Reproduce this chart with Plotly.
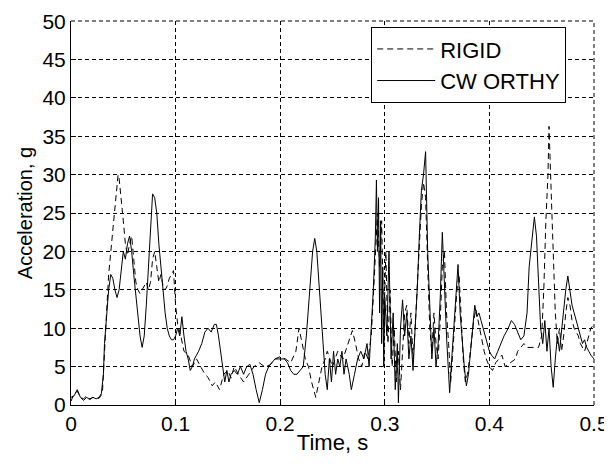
import plotly.graph_objects as go

# ---- data ----
t_cworthy = [0.000, 0.003, 0.006, 0.009, 0.012, 0.015, 0.018, 0.021, 0.024, 0.027, 0.029,
             0.031, 0.032, 0.034, 0.036, 0.038, 0.040, 0.042, 0.044, 0.046, 0.048, 0.050,
             0.052, 0.054, 0.056, 0.058, 0.060, 0.062, 0.064, 0.066, 0.068, 0.070, 0.072,
             0.074, 0.076, 0.078, 0.080, 0.082, 0.084, 0.086, 0.088, 0.090, 0.092, 0.094,
             0.096, 0.098, 0.100, 0.102, 0.104, 0.106, 0.108, 0.110, 0.112, 0.114, 0.116,
             0.118, 0.120, 0.122, 0.125, 0.128, 0.131, 0.134, 0.137, 0.139, 0.141, 0.143,
             0.145, 0.147, 0.149, 0.151, 0.153, 0.156, 0.159, 0.162, 0.165, 0.168, 0.171,
             0.174, 0.177, 0.180, 0.183, 0.186, 0.189, 0.192, 0.195, 0.198, 0.201, 0.204,
             0.207, 0.210, 0.213, 0.216, 0.219, 0.222, 0.225, 0.228, 0.231, 0.233, 0.235,
             0.238, 0.241, 0.243, 0.245, 0.247, 0.249, 0.251, 0.253, 0.255, 0.257, 0.259,
             0.261, 0.263, 0.266, 0.268, 0.271, 0.274, 0.277, 0.280, 0.283, 0.285, 0.287,
             0.289, 0.291, 0.292, 0.293, 0.294, 0.295, 0.296, 0.297, 0.298, 0.299, 0.300,
             0.302, 0.304, 0.306, 0.308, 0.310, 0.312, 0.313, 0.315, 0.317, 0.319, 0.321,
             0.323, 0.325, 0.327, 0.329, 0.331, 0.333, 0.335, 0.337, 0.339, 0.341, 0.343,
             0.345, 0.347, 0.349, 0.351, 0.353, 0.355, 0.357, 0.359, 0.361, 0.362, 0.364,
             0.366, 0.368, 0.370, 0.372, 0.374, 0.376, 0.378, 0.380, 0.382, 0.384, 0.386,
             0.388, 0.390, 0.392, 0.394, 0.396, 0.398, 0.400, 0.402, 0.405, 0.408, 0.411,
             0.414, 0.418, 0.421, 0.424, 0.427, 0.430, 0.433, 0.436, 0.438, 0.441, 0.443,
             0.445, 0.447, 0.449, 0.451, 0.453, 0.455, 0.457, 0.459, 0.461, 0.463, 0.465,
             0.467, 0.469, 0.471, 0.473, 0.475, 0.477, 0.479, 0.481, 0.483, 0.485, 0.487,
             0.489, 0.491, 0.493, 0.495, 0.497, 0.500]
g_cworthy = [1.0, 1.2, 2.0, 1.0, 0.6, 1.0, 0.7, 1.0, 0.8, 1.0, 1.5,
             4, 8, 12, 15, 17, 16.5, 15, 14, 15, 18, 20,
             19, 21, 22, 20, 17, 14, 12, 9, 7.5, 9, 13,
             18, 24, 27.5, 27, 25, 21, 18, 14, 12, 10, 9,
             8.5, 8.5, 9, 10, 9, 11.5, 9, 7, 6, 4.5, 5,
             6, 6.5, 7, 8, 9.5, 10, 9.5, 10.5, 10.5, 9, 7,
             5, 3, 4.5, 3, 4, 4.5, 4, 5, 4, 5, 5.3,
             4, 2, 0.3, 2, 4, 5, 5.5, 6, 6, 6, 6,
             5.5, 4.5, 4, 4, 4.5, 5, 9, 15, 20, 21.7, 20,
             14, 7, 4, 2, 6, 3, 7, 4, 6, 5, 7,
             4, 6, 4, 2, 4, 6, 7, 6, 8, 5, 10,
             15, 22, 29.3, 20, 27, 12, 24, 8, 18, 5, 14,
             9, 20, 6, 12, 2, 8, 0.3, 10, 13.7, 9, 12,
             6, 9, 4.5, 10, 15, 22, 28, 30, 33, 20, 12,
             6, 10, 5, 8, 14, 22.5, 15, 9, 4, 1.6, 6,
             10, 14, 18.3, 12, 8, 5, 2.5, 4, 7, 10, 13,
             11.5, 12, 11, 10, 9, 8, 7, 6.5, 6, 7, 8,
             9, 10, 11, 10.5, 9.5, 8.5, 9, 12, 18, 22, 24.5,
             22, 16, 10, 8, 11, 7, 10, 5, 2.3, 6, 9,
             7, 10, 12, 15, 16.8, 15, 13, 12, 11, 10, 9,
             8, 8.5, 7.5, 7, 6.5, 6]

t_rigid = [0.000, 0.003, 0.006, 0.009, 0.012, 0.015, 0.018, 0.021, 0.024, 0.027, 0.030,
           0.032, 0.034, 0.036, 0.038, 0.040, 0.042, 0.044, 0.045, 0.046, 0.048, 0.050,
           0.052, 0.054, 0.056, 0.058, 0.060, 0.062, 0.064, 0.066, 0.068, 0.070, 0.072,
           0.074, 0.076, 0.078, 0.080, 0.082, 0.084, 0.086, 0.088, 0.090, 0.092, 0.094,
           0.096, 0.098, 0.100, 0.102, 0.105, 0.108, 0.112, 0.116, 0.120, 0.124, 0.128,
           0.131, 0.135, 0.138, 0.142, 0.146, 0.150, 0.153, 0.156, 0.160, 0.165, 0.170,
           0.175, 0.180, 0.185, 0.190, 0.195, 0.200, 0.205, 0.210, 0.215, 0.218, 0.221,
           0.224, 0.227, 0.230, 0.234, 0.237, 0.240, 0.243, 0.245, 0.250, 0.255, 0.260,
           0.265, 0.269, 0.272, 0.275, 0.278, 0.281, 0.284, 0.287, 0.289, 0.291, 0.293,
           0.295, 0.297, 0.299, 0.301, 0.303, 0.305, 0.307, 0.309, 0.311, 0.313, 0.315,
           0.317, 0.319, 0.321, 0.323, 0.325, 0.327, 0.329, 0.331, 0.333, 0.335, 0.337,
           0.339, 0.341, 0.343, 0.345, 0.347, 0.349, 0.351, 0.353, 0.355, 0.357, 0.359,
           0.361, 0.363, 0.365, 0.367, 0.369, 0.371, 0.373, 0.375, 0.377, 0.379, 0.381,
           0.383, 0.385, 0.387, 0.389, 0.391, 0.393, 0.395, 0.397, 0.400, 0.403, 0.406,
           0.409, 0.412, 0.415, 0.420, 0.425, 0.427, 0.430, 0.433, 0.436, 0.440, 0.444,
           0.447, 0.450, 0.452, 0.454, 0.456, 0.457, 0.458, 0.459, 0.461, 0.463, 0.465,
           0.467, 0.469, 0.471, 0.473, 0.475, 0.477, 0.479, 0.481, 0.483, 0.485, 0.487,
           0.489, 0.491, 0.493, 0.495, 0.497, 0.500]
g_rigid = [0.5, 1.5, 1.8, 1.0, 0.8, 1.2, 0.8, 1.0, 0.8, 0.9, 1.5,
           6, 12, 17, 20, 22.5, 25, 29, 30, 29.5, 27, 24,
           21, 19.5, 21, 22, 19, 16, 15, 14.5, 15, 15.5, 16,
           15, 16, 19, 20, 18, 16, 17, 15.5, 15, 15.5, 16.5,
           17, 17.5, 13, 10.5, 9, 7, 6.5, 5, 6, 5, 4,
           3.6, 2.5, 3, 2, 4, 4.5, 3.5, 5, 4, 3, 4,
           5, 5.5, 5, 5.2, 6, 6.3, 6, 5.5, 7, 10, 8,
           6, 5, 3, 1, 3, 5, 6, 7, 5, 7, 6,
           8, 9.7, 8, 6, 5, 7, 6, 9, 14, 20, 25,
           18, 24, 10, 20, 8, 15, 5, 10, 3, 7, 2,
           8, 12, 13, 8, 12, 6, 10, 16, 20, 26, 29,
           27, 18, 10, 7, 12, 8, 6, 11, 18, 20, 12,
           8, 3, 7, 11, 15, 17, 11, 6, 3, 4, 6,
           9, 11, 12.5, 11, 9.5, 8, 7, 6, 5, 4.5, 5.5,
           6, 6.5, 5, 5.5, 6, 7, 7.5, 8, 7.5, 7.5, 7.5,
           7.5, 9, 15, 24, 30, 36.3, 33, 28, 20, 12, 8,
           10, 7, 9, 12, 14, 13, 11, 10, 9.5, 9, 8,
           7.5, 7, 8, 9, 10, 10.5]

x_tickvals = [0, 0.1, 0.2, 0.3, 0.4, 0.5]
x_ticktext = ["0", "0.1", "0.2", "0.3", "0.4", "0.5"]
y_tickvals = [0, 5, 10, 15, 20, 25, 30, 35, 40, 45, 50]
y_ticktext = ["0", "5", "10", "15", "20", "25", "30", "35", "40", "45", "50"]
legend_names = ["RIGID", "CW ORTHY"]

FONT = "Liberation Sans, Arial, sans-serif"
GRID_DASH = "4px,3px"

fig = go.Figure()
fig.add_trace(go.Scatter(x=t_rigid, y=g_rigid, mode="lines", name=legend_names[0],
                         line=dict(color="black", width=1, dash="6px,4px")))
fig.add_trace(go.Scatter(x=t_cworthy, y=g_cworthy, mode="lines", name=legend_names[1],
                         line=dict(color="black", width=1)))

# dashed frame lines on the top and right edges (grid lines at the range ends)
fig.add_shape(type="line", xref="paper", yref="paper", x0=0, x1=1, y0=1, y1=1,
              line=dict(color="black", width=1, dash=GRID_DASH), layer="below")
fig.add_shape(type="line", xref="paper", yref="paper", x0=1, x1=1, y0=0, y1=1,
              line=dict(color="black", width=1, dash=GRID_DASH), layer="below")

# the page body has an 8px margin, so the figure is made 8px smaller
fig.update_layout(
    width=604, height=456, autosize=False,
    margin=dict(l=63, r=18, t=13, b=59),
    paper_bgcolor="white", plot_bgcolor="white",
    font=dict(family=FONT, size=21, color="black"),
    showlegend=True,
    legend=dict(x=0.574, y=0.984, xanchor="left", yanchor="top",
                bgcolor="white", bordercolor="black", borderwidth=1,
                font=dict(family=FONT, size=22, color="black"),
                tracegroupgap=0, itemwidth=58),
)
fig.update_xaxes(
    range=[0, 0.5], tickmode="array", tickvals=x_tickvals, ticktext=x_ticktext,
    showgrid=True, gridcolor="black", gridwidth=1, griddash=GRID_DASH,
    showline=True, linecolor="black", linewidth=1, mirror=False,
    ticks="inside", ticklen=5, tickcolor="black", zeroline=False,
    automargin=False, ticklabeloverflow="allow",
    title=dict(text="Time, s", standoff=0, font=dict(family=FONT, size=22)),
    tickfont=dict(family=FONT, size=21),
)
fig.update_yaxes(
    range=[0, 50.02], tickmode="array", tickvals=y_tickvals, ticktext=y_ticktext,
    showgrid=True, gridcolor="black", gridwidth=1, griddash=GRID_DASH,
    showline=True, linecolor="black", linewidth=1, mirror=False,
    ticks="inside", ticklen=5, tickcolor="black", zeroline=False,
    automargin=False, ticklabeloverflow="allow",
    title=dict(text="Acceleration, g", standoff=4, font=dict(family=FONT, size=20)),
    tickfont=dict(family=FONT, size=21),
)

fig.write_html("out.html")
